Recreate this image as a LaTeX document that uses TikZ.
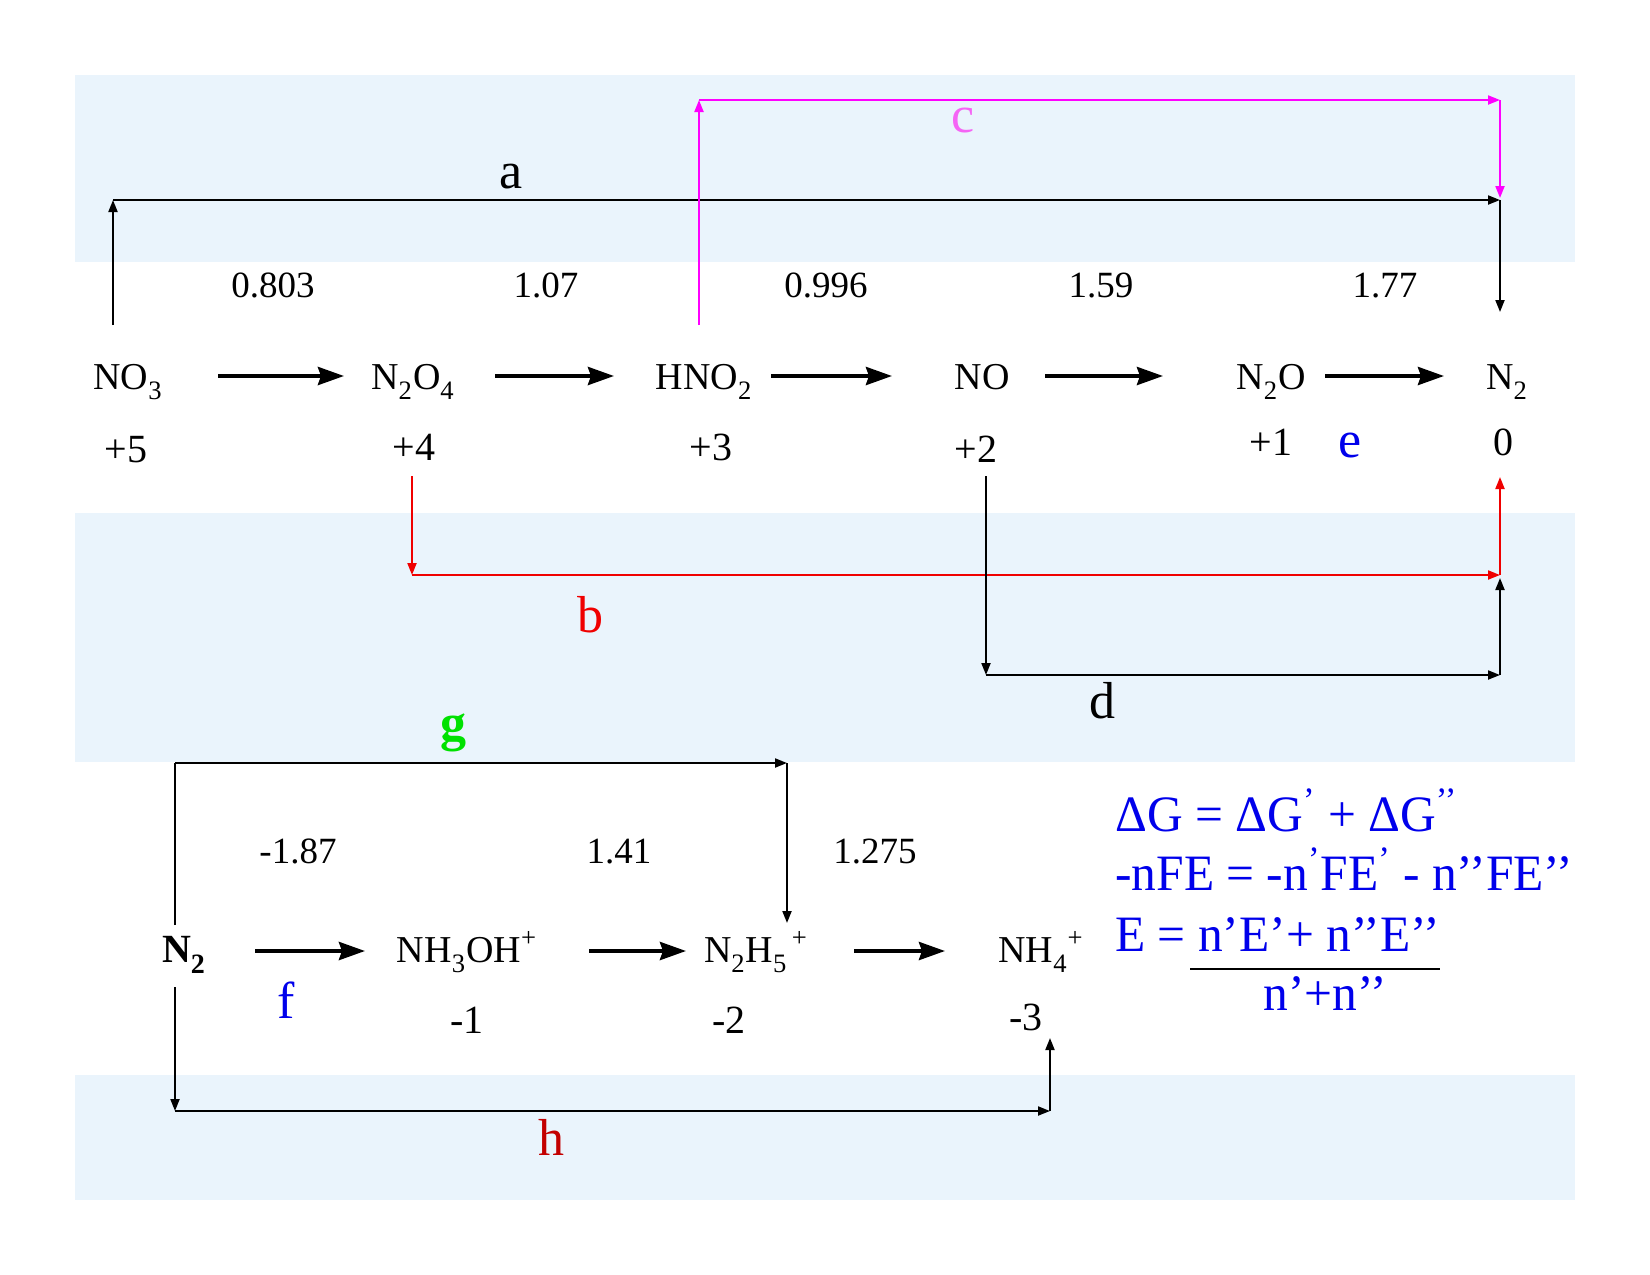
\documentclass[tikz,border=0pt]{standalone}
\usepackage{fontspec}
\usepackage{graphicx}
\setmainfont{Liberation Serif}
\newfontfamily\eqfont[FakeStretch=0.97]{Liberation Serif}
\usetikzlibrary{arrows.meta,calc}
\newcommand\sbs[1]{\raisebox{-0.13em}{\textsubscript{#1}}}
\newcommand\sps[1]{\raisebox{0.08em}{\textsuperscript{#1}}}
\definecolor{bandc}{RGB}{234,244,252}
\definecolor{magc}{RGB}{255,0,255}
\definecolor{clab}{RGB}{245,100,245}
\definecolor{redc}{RGB}{240,0,0}
\definecolor{bluec}{RGB}{0,0,235}
\definecolor{greenc}{RGB}{0,225,0}
\definecolor{hred}{RGB}{195,0,0}
\begin{document}
\begin{tikzpicture}[x=0.5pt,y=-0.5pt,
 sp/.style={anchor=base,inner sep=0pt,font=\fontsize{19}{22}\selectfont},
 pot/.style={anchor=base,inner sep=0pt,font=\fontsize{18.5}{22}\selectfont},
 ox/.style={anchor=base,inner sep=0pt,font=\fontsize{20}{24}\selectfont},
 lab/.style={anchor=base,inner sep=0pt,font=\fontsize{26}{30}\selectfont},
 eqn/.style={anchor=base west,inner sep=0pt,text=bluec,font=\eqfont\fontsize{25.5}{30}\selectfont},
 rxn/.style={line width=2pt,-{Stealth[length=13pt,width=9pt,inset=1.5pt]}},
 conn/.style={line width=1pt,-{Triangle[length=6pt,width=4.5pt]}},
 plainc/.style={line width=1pt},
]
\useasboundingbox (0,0) rectangle (1650,1275);
% background bands
\fill[bandc] (75,75) rectangle (1575,262);
\fill[bandc] (75,513) rectangle (1575,762);
\fill[bandc] (75,1075) rectangle (1575,1200);

% top row species
\node[sp] (NO3) at (128,389) {NO\sbs{3}};
\node[sp] (N2O4) at (413,389) {N\sbs{2}O\sbs{4}};
\node[sp] (HNO2) at (704,389) {HNO\sbs{2}};
\node[sp] (NO) at (982,389) {NO};
\node[sp] (N2O) at (1271,389) {N\sbs{2}O};
\node[sp] (N2a) at (1507,389) {N\sbs{2}};

\draw[rxn] ($(NO3.base)+(90,-13)$) -- ($(N2O4.base)+(-69,-13)$);
\draw[rxn] ($(N2O4.base)+(82,-13)$) -- ($(HNO2.base)+(-90,-13)$);
\draw[rxn] ($(HNO2.base)+(67,-13)$) -- ($(NO.base)+(-90,-13)$);
\draw[rxn] ($(NO.base)+(63,-13)$) -- ($(N2O.base)+(-108,-13)$);
\draw[rxn] ($(N2O.base)+(54,-13)$) -- ($(N2a.base)+(-63,-13)$);

% potentials
\node[pot] (p1) at (273,297) {0.803};
\node[pot] (p2) at (546,297) {1.07};
\node[pot] (p3) at (826,297) {0.996};
\node[pot] (p4) at (1101,297) {1.59};
\node[pot] (p5) at (1385,297) {1.77};

% oxidation states
\node[ox] (o5) at (126,462) {+5};
\node[ox] (o4) at (414,460) {+4};
\node[ox] (o3) at (711,460) {+3};
\node[ox] (o2) at (976,462) {+2};
\node[ox] (o1) at (1271,455) {+1};
\node[ox] (o0) at (1503,455) {0};
\node[lab,text=bluec] (le) at (1350,457) {e};

% connector a
\coordinate (aS) at (113,325);
\coordinate (aL) at (113,200);
\coordinate (aR) at (1500,200);
\coordinate (aE) at (1500,312);
\draw[conn] (aS) -- (aL);
\draw[conn] (aL) -- (aR);
\draw[conn] (aR) -- (aE);
\node[lab] (la) at (511,188) {a};

% connector c
\coordinate (cS) at (699,325);
\coordinate (cL) at (699,100);
\coordinate (cR) at (1500,100);
\coordinate (cE) at (1500,198);
\draw[conn,magc] (cS) -- (cL);
\draw[conn,magc] (cL) -- (cR);
\draw[conn,magc] (cR) -- (cE);
\node[lab,text=clab] (lc) at (963,132) {c};

% connector b
\coordinate (bS) at (412,476);
\coordinate (bL) at (412,575);
\coordinate (bR) at (1500,575);
\coordinate (bE) at (1500,477);
\draw[conn,redc] (bS) -- (bL);
\draw[conn,redc] (bL) -- (bR);
\draw[conn,redc] (bR) -- (bE);
\node[lab,text=redc] (lb) at (590,632) {b};

% connector d
\coordinate (dS) at (986,476);
\coordinate (dL) at (986,675);
\coordinate (dR) at (1500,675);
\coordinate (dE) at (1500,578);
\draw[conn] (dS) -- (dL);
\draw[conn] (dL) -- (dR);
\draw[conn] (dR) -- (dE);
\node[lab] (ld) at (1102,718) {d};

% bottom row species
\node[sp,font=\bfseries\fontsize{20}{24}\selectfont] (N2b) at (184,962) {N\sbs{2}};
\node[sp] (NH3OH) at (467,962) {NH\sbs{3}OH\sps{+}};
\node[sp] (N2H5) at (756,962) {N\sbs{2}H\sbs{5}\sps{\,+}};
\node[sp] (NH4) at (1041,962) {NH\sbs{4}\sps{+}};

\draw[rxn] ($(N2b.base)+(71,-11)$) -- ($(NH3OH.base)+(-102,-11)$);
\draw[rxn] ($(NH3OH.base)+(122,-11)$) -- ($(N2H5.base)+(-70,-11)$);
\draw[rxn] ($(N2H5.base)+(98,-11)$) -- ($(NH4.base)+(-96,-11)$);

\node[pot] (q1) at (298,863) {-1.87};
\node[pot] (q2) at (619,863) {1.41};
\node[pot] (q3) at (875,863) {1.275};

\node[ox] (m1) at (467,1033) {-1};
\node[ox] (m2) at (729,1033) {-2};
\node[ox] (m3) at (1026,1030) {-3};

\node[lab,text=bluec] (lf) at (286,1018) {f};

% connector g
\coordinate (gS) at (175,925);
\coordinate (gL) at (175,763);
\coordinate (gR) at (787,763);
\coordinate (gE) at (787,923);
\draw[plainc] (gS) -- (gL);
\draw[conn] (gL) -- (gR);
\draw[conn] (gR) -- (gE);
\node[lab,text=greenc,font=\bfseries\fontsize{26}{30}\selectfont] (lg) at (453,740) {g};

% connector h
\coordinate (hS) at (175,987);
\coordinate (hL) at (175,1111);
\coordinate (hR) at (1050,1111);
\coordinate (hE) at (1050,1038);
\draw[conn] (hS) -- (hL);
\draw[conn] (hL) -- (hR);
\draw[conn] (hR) -- (hE);
\node[lab,text=hred] (lh) at (551,1155) {h};

% formulas
\node[eqn] (eq1) at (1115,831) {ΔG = ΔG\textsuperscript{’} + ΔG\textsuperscript{’’}};
\node[eqn] (eq2) at (1115,890) {-nFE = -n\textsuperscript{’}FE\textsuperscript{’} - n’’FE’’};
\node[eqn] (eq3) at (1115,951) {E = n’E’+ n’’E’’};
\coordinate (rL) at (1190,969);
\coordinate (rR) at (1440,969);
\draw[line width=1.3pt] (rL) -- (rR);
\node[eqn,anchor=base] (eq4) at (1325,1010) {n’+n’’};
\end{tikzpicture}
\end{document}
